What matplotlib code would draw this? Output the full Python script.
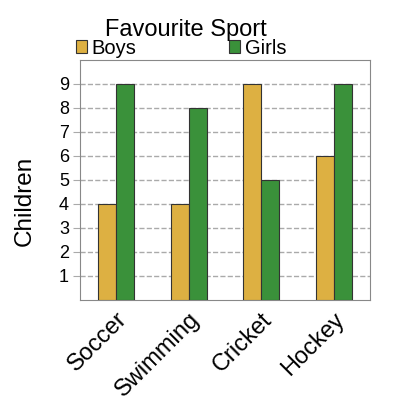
import matplotlib
matplotlib.use('Agg')
import matplotlib.pyplot as plt
import numpy as np

plt.rcParams['font.family'] = ['Liberation Sans', 'DejaVu Sans']

# Dados do gráfico
esportes = ['Soccer', 'Swimming', 'Cricket', 'Hockey']
meninos = [4, 4, 9, 6]
meninas = [9, 8, 5, 9]
yticks = [1, 2, 3, 4, 5, 6, 7, 8, 9]

cor_meninos = '#DDB042'
cor_meninas = '#3A913A'

fig = plt.figure(figsize=(4, 4), dpi=100)
ax = fig.add_axes([0.2, 0.25, 0.725, 0.6])

x = np.arange(len(esportes))
w = 0.25
ax.bar(x - w / 2, meninos, w, color=cor_meninos, edgecolor='#333333', linewidth=0.8, label='Boys', zorder=3)
ax.bar(x + w / 2, meninas, w, color=cor_meninas, edgecolor='#333333', linewidth=0.8, label='Girls', zorder=3)

ax.set_xlim(-0.5, len(esportes) - 0.5)
ax.set_ylim(0, 10)
ax.set_yticks(yticks)
ax.set_yticklabels([str(v) for v in yticks], fontsize=13)
ax.set_xticks(x)
ax.set_xticklabels(esportes, rotation=45, ha='right', rotation_mode='anchor', fontsize=17)
ax.tick_params(axis='x', length=0, pad=6)
ax.tick_params(axis='y', length=5, color='#aaaaaa', pad=3)
ax.yaxis.grid(True, linestyle='--', color='#aaaaaa', linewidth=1, zorder=0)

for s in ax.spines.values():
    s.set_color('#888888')

ax.set_ylabel('Children', fontsize=17.5, va='center')
ax.yaxis.set_label_coords(-0.19, 0.414)

fig.text(0.465, 0.925, 'Favourite Sport', ha='center', va='center', fontsize=17)
ax.legend(loc='lower left', bbox_to_anchor=(-0.015, 1.01), ncol=2, frameon=False,
          fontsize=14.5, handlelength=0.55, handleheight=0.55, handletextpad=0.25,
          columnspacing=4.6, borderaxespad=0, borderpad=0)

fig.savefig('out.png', dpi=100)
